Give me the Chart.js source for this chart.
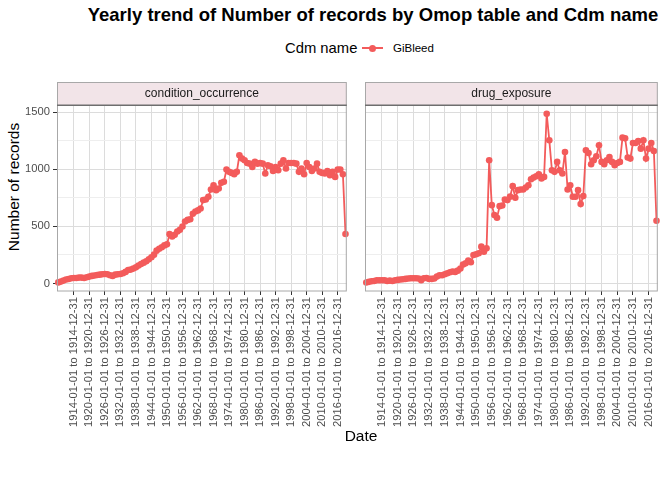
<!DOCTYPE html>
<html>
<head>
<meta charset="utf-8">
<script src="https://cdn.jsdelivr.net/npm/chart.js@4/dist/chart.umd.min.js"></script>
<style>
  body { margin: 0; width: 672px; height: 480px; background: #fff; position: relative; overflow: hidden;
         font-family: "Liberation Sans", Arial, sans-serif; }
  #title { position: absolute; left: 74px; width: 598px; top: 4px; text-align: center;
           font-weight: bold; font-size: 18.5px; color: #000; white-space: nowrap; }
  #legendTitle { position: absolute; left: 285px; top: 39.5px; font-size: 14.8px; color: #000; }
  #legendLine { position: absolute; left: 362px; top: 47px; width: 21px; height: 2px; background: #F35B5B; }
  #legendDot { position: absolute; left: 368.5px; top: 44.5px; width: 7px; height: 7px; border-radius: 50%; background: #F35B5B; }
  #legendLabel { position: absolute; left: 393px; top: 42px; font-size: 11.5px; color: #000; }
  #yTitle { position: absolute; left: 14px; top: 186.5px; transform: translate(-50%, -50%) rotate(-90deg);
            font-size: 15.5px; color: #000; white-space: nowrap; }
  #xTitle { position: absolute; left: 311px; width: 100px; top: 427px; text-align: center; font-size: 15.5px; color: #000; }
  .panel { position: absolute; top: 82px; height: 350px; }
</style>
</head>
<body>
<div id="title">Yearly trend of Number of records by Omop table and Cdm name</div>
<div id="legendTitle">Cdm name</div>
<div id="legendLine"></div>
<div id="legendDot"></div>
<div id="legendLabel">GiBleed</div>
<div id="yTitle">Number of records</div>
<div class="panel" style="left:0px;width:361px;"><canvas id="panel1" width="361" height="350"></canvas></div>
<div class="panel" style="left:361px;width:311px;"><canvas id="panel2" width="311" height="350"></canvas></div>
<div id="xTitle">Date</div>

<script>
const FONT = '"Liberation Sans", Arial, sans-serif';
const LINE = '#F35B5B';

const years = [
  1908, 1909, 1910, 1911, 1912, 1913, 1914, 1915, 1916, 1917,
  1918, 1919, 1920, 1921, 1922, 1923, 1924, 1925, 1926, 1927,
  1928, 1929, 1930, 1931, 1932, 1933, 1934, 1935, 1936, 1937,
  1938, 1939, 1940, 1941, 1942, 1943, 1944, 1945, 1946, 1947,
  1948, 1949, 1950, 1951, 1952, 1953, 1954, 1955, 1956, 1957,
  1958, 1959, 1960, 1961, 1962, 1963, 1964, 1965, 1966, 1967,
  1968, 1969, 1970, 1971, 1972, 1973, 1974, 1975, 1976, 1977,
  1978, 1979, 1980, 1981, 1982, 1983, 1984, 1985, 1986, 1987,
  1988, 1989, 1990, 1991, 1992, 1993, 1994, 1995, 1996, 1997,
  1998, 1999, 2000, 2001, 2002, 2003, 2004, 2005, 2006, 2007,
  2008, 2009, 2010, 2011, 2012, 2013, 2014, 2015, 2016, 2017,
  2018, 2019
];

// years that get a label + grid line on the x axis
const tickYears = [1914, 1920, 1926, 1932, 1938, 1944, 1950, 1956, 1962, 1968,
                   1974, 1980, 1986, 1992, 1998, 2004, 2010, 2016];

const yBreaks = [0, 250, 500, 750, 1000, 1250, 1500];

const conditionOccurrence = [
  10, 17, 26, 35, 40, 46, 49, 49, 52, 52,
  49, 55, 61, 67, 70, 75, 78, 81, 84, 81,
  73, 67, 78, 81, 84, 90, 102, 119, 122, 131,
  142, 157, 171, 183, 195, 212, 230, 253, 288, 305,
  317, 334, 343, 432, 411, 426, 455, 470, 499, 543,
  557, 563, 610, 630, 640, 657, 730, 735, 759, 823,
  860, 817, 831, 881, 890, 997, 977, 968, 956, 977,
  1122, 1093, 1078, 1055, 1049, 1020, 1064, 1049, 1055, 1049,
  962, 1035, 1026, 985, 1020, 991, 1049, 1078, 1006, 1055,
  1055, 1055, 1049, 977, 1006, 956, 1055, 1020, 985, 1006,
  1049, 977, 968, 962, 985, 948, 977, 933, 997, 997,
  956, 433
];

const drugExposure = [
  9, 15, 20, 23, 29, 29, 29, 29, 23, 26,
  23, 29, 32, 35, 38, 41, 44, 47, 47, 47,
  44, 29, 47, 49, 41, 41, 44, 61, 73, 73,
  81, 90, 99, 105, 102, 113, 131, 166, 177, 201,
  186, 250, 256, 265, 323, 279, 308, 1079, 686, 599,
  576, 677, 683, 735, 730, 760, 852, 750, 817, 823,
  823, 840, 860, 913, 927, 939, 956, 919, 933, 1485,
  1253, 991, 977, 1064, 991, 962, 1151, 823, 860, 759,
  759, 817, 695, 765, 1166, 1142, 1044, 1078, 1113, 1209,
  1064, 1044, 1078, 1107, 1064, 1035, 1055, 1064, 1276, 1270,
  1102, 1093, 1230, 1230, 1247, 1180, 1253, 1093, 1180, 1230,
  1160, 549
];

const labels = years.map(y => y + '-01-01 to ' + y + '-12-31');
const isBreak = i => tickYears.includes(years[i]);

// strip background + panel border, like a ggplot facet
const facetFrame = {
  id: 'facetFrame',
  beforeDraw(chart) {
    const { ctx, chartArea: a } = chart;
    ctx.save();
    ctx.fillStyle = '#f2e4e8';
    ctx.fillRect(a.left, 0.5, a.right - a.left, a.top - 0.5);
    ctx.restore();
  },
  afterDraw(chart) {
    const { ctx, chartArea: a } = chart;
    ctx.save();
    ctx.strokeStyle = '#a8a8a8';
    ctx.lineWidth = 1;
    ctx.strokeRect(a.left + 0.5, 0.5, a.right - a.left - 1, a.bottom - 0.5);
    ctx.strokeStyle = '#6e6e6e';
    ctx.lineWidth = 1.5;
    ctx.beginPath();
    ctx.moveTo(a.left, a.top);
    ctx.lineTo(a.right, a.top);
    ctx.stroke();
    ctx.restore();
  }
};

function makePanel(id, strip, values, first) {
  return new Chart(document.getElementById(id), {
    type: 'line',
    data: {
      labels: labels,
      datasets: [{
        label: 'GiBleed',
        data: values,
        borderColor: LINE,
        backgroundColor: LINE,
        borderWidth: 1.8,
        pointRadius: 3.3,
        pointBorderWidth: 0,
        pointBackgroundColor: LINE,
        tension: 0
      }]
    },
    plugins: [facetFrame],
    options: {
      responsive: false,
      animation: false,
      events: [],
      layout: { padding: { left: 0, right: first ? 4 : 7, top: 0, bottom: 0 } },
      plugins: {
        legend: { display: false },
        tooltip: { enabled: false },
        title: {
          display: true,
          text: strip,
          fullSize: false,
          color: '#1a1a1a',
          font: { family: FONT, size: 12, weight: 'normal' },
          lineHeight: 1.1,
          padding: { top: 4.4, bottom: 4.4 }
        }
      },
      scales: {
        x: {
          type: 'category',
          offset: true,
          afterFit: s => { s.height = 141; },
          border: { display: false },
          grid: {
            offset: false,
            color: c => isBreak(c.index) ? '#dcdcdc' : 'rgba(0,0,0,0)',
            tickColor: c => isBreak(c.index) ? '#333333' : 'rgba(0,0,0,0)',
            tickLength: 4
          },
          ticks: {
            autoSkip: false,
            minRotation: 90,
            maxRotation: 90,
            padding: 2,
            color: '#4d4d4d',
            font: { family: FONT, size: 11.2 },
            callback: (v, i) => isBreak(i) ? labels[i] : ''
          }
        },
        y: {
          min: -65,
          max: 1560,
          afterBuildTicks: s => { s.ticks = yBreaks.map(v => ({ value: v })); },
          afterFit: s => { s.width = first ? 57 : 4; },
          border: { display: false },
          grid: {
            color: c => c.tick && c.tick.value % 500 === 0 ? '#dcdcdc' : '#eeeeee',
            tickColor: c => c.tick && c.tick.value % 500 === 0 ? '#333333' : 'rgba(0,0,0,0)',
            tickLength: 4,
            drawTicks: first
          },
          ticks: {
            display: first,
            padding: 3,
            color: '#4d4d4d',
            font: { family: FONT, size: 11.2 },
            callback: v => v % 500 === 0 ? v : ''
          }
        }
      }
    }
  });
}

makePanel('panel1', 'condition_occurrence', conditionOccurrence, true);
makePanel('panel2', 'drug_exposure', drugExposure, false);
</script>
</body>
</html>
